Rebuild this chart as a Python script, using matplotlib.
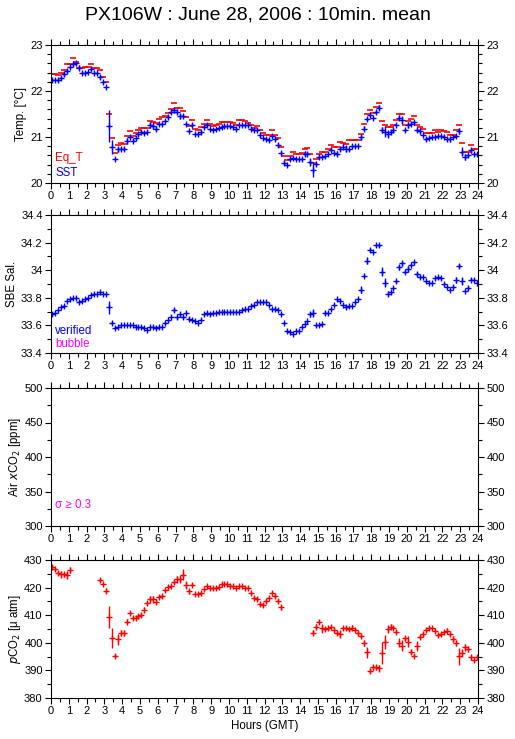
import numpy as np
import matplotlib
matplotlib.use('Agg')
import matplotlib.pyplot as plt
from matplotlib.ticker import MultipleLocator

plt.rcParams['font.family'] = ['Liberation Sans', 'DejaVu Sans']

nan = np.nan

# 10-minute means, one row per hour
sst = [
    22.25, 22.25, 22.24, 22.29, 22.36, 22.43,
    22.53, 22.58, 22.60, 22.51, 22.40, 22.40,
    22.42, 22.47, 22.40, 22.40, 22.31, 22.19,
    22.08, 21.24, 20.79, 20.52, 20.73, 20.75,
    20.75, 20.91, 21.00, 20.92, 20.97, 21.06,
    21.11, 21.09, 21.11, 21.26, 21.24, 21.18,
    21.29, 21.29, 21.35, 21.44, 21.55, 21.58,
    21.55, 21.45, 21.45, 21.28, 21.13, 21.26,
    21.06, 21.06, 21.10, 21.22, 21.26, 21.17,
    21.15, 21.17, 21.20, 21.22, 21.24, 21.24,
    21.24, 21.22, 21.17, 21.26, 21.27, 21.27,
    21.26, 21.18, 21.15, 21.15, 21.04, 20.97,
    20.95, 20.93, 21.02, 20.95, 20.82, 20.65,
    20.44, 20.39, 20.53, 20.55, 20.53, 20.53,
    20.53, 20.64, 20.64, 20.46, 20.29, 20.42,
    20.57, 20.57, 20.58, 20.63, 20.71, 20.65,
    20.64, 20.75, 20.79, 20.75, 20.73, 20.80,
    20.80, 20.81, 20.99, 21.18, 21.40, 21.48,
    21.42, 21.55, 21.64, 21.15, 21.11, 21.06,
    21.11, 21.16, 21.26, 21.42, 21.37, 21.16,
    21.26, 21.29, 21.32, 21.15, 21.13, 21.04,
    20.95, 20.97, 20.99, 21.00, 21.02, 21.02,
    21.00, 20.95, 20.95, 20.99, 21.02, 21.13,
    20.68, 20.57, 20.60, 20.71, 20.64, 20.64,
]
sst_sd = [
    0.03, 0.02, 0.05, 0.03, 0.03, 0.04,
    0.03, 0.03, 0.03, 0.05, 0.04, 0.02,
    0.02, 0.02, 0.02, 0.02, 0.04, 0.02,
    0.02, 0.35, 0.15, 0.02, 0.06, 0.04,
    0.04, 0.06, 0.03, 0.03, 0.04, 0.03,
    0.02, 0.02, 0.03, 0.07, 0.06, 0.06,
    0.02, 0.02, 0.03, 0.04, 0.05, 0.05,
    0.06, 0.05, 0.04, 0.02, 0.02, 0.04,
    0.02, 0.02, 0.03, 0.02, 0.02, 0.02,
    0.02, 0.02, 0.02, 0.02, 0.02, 0.02,
    0.02, 0.02, 0.02, 0.02, 0.02, 0.02,
    0.02, 0.03, 0.02, 0.02, 0.04, 0.02,
    0.02, 0.04, 0.02, 0.02, 0.04, 0.03,
    0.04, 0.03, 0.04, 0.02, 0.02, 0.02,
    0.02, 0.05, 0.04, 0.08, 0.15, 0.04,
    0.05, 0.03, 0.03, 0.03, 0.02, 0.03,
    0.06, 0.03, 0.06, 0.07, 0.03, 0.03,
    0.02, 0.02, 0.06, 0.06, 0.04, 0.02,
    0.02, 0.03, 0.05, 0.06, 0.12, 0.09,
    0.04, 0.03, 0.03, 0.05, 0.08, 0.02,
    0.06, 0.03, 0.03, 0.04, 0.06, 0.02,
    0.04, 0.02, 0.02, 0.03, 0.02, 0.02,
    0.02, 0.04, 0.05, 0.02, 0.03, 0.06,
    0.10, 0.07, 0.03, 0.05, 0.03, 0.02,
]
eq_t = [
    22.38, 22.37, 22.35, 22.40, 22.45, 22.58,
    22.58, 22.72, 22.63, 22.50, 22.51, 22.52,
    22.52, 22.58, 22.49, 22.49, 22.45, 22.30,
    22.19, 21.50, 20.98, 20.65, 20.82, 20.87,
    20.85, 21.03, 21.12, 21.03, 21.08, 21.15,
    21.20, 21.20, 21.20, 21.35, 21.33, 21.30,
    21.40, 21.43, 21.46, 21.52, 21.60, 21.74,
    21.63, 21.62, 21.56, 21.44, 21.25, 21.36,
    21.18, 21.16, 21.22, 21.28, 21.37, 21.28,
    21.25, 21.27, 21.28, 21.33, 21.33, 21.33,
    21.33, 21.30, 21.27, 21.37, 21.37, 21.35,
    21.30, 21.26, 21.20, 21.25, 21.16, 21.08,
    21.04, 21.04, 21.15, 21.04, 20.97, 20.79,
    20.58, 20.50, 20.58, 20.67, 20.62, 20.64,
    20.65, 20.75, 20.77, 20.63, 20.44, 20.53,
    20.63, 20.67, 20.67, 20.73, 20.82, 20.79,
    20.79, 20.89, 20.86, 20.84, 20.93, 20.93,
    20.93, 20.93, 21.06, 21.28, 21.49, 21.58,
    21.53, 21.66, 21.75, 21.34, 21.26, 21.21,
    21.21, 21.27, 21.36, 21.51, 21.51, 21.27,
    21.35, 21.40, 21.45, 21.26, 21.22, 21.18,
    21.08, 21.08, 21.09, 21.15, 21.11, 21.15,
    21.13, 21.10, 21.04, 21.04, 21.15, 21.26,
    20.86, 20.67, 20.67, 20.82, 20.75, 20.75,
]
sal = [
    33.68, 33.69, 33.71, 33.73, 33.74, 33.78,
    33.79, 33.80, 33.80, 33.77, 33.78, 33.79,
    33.80, 33.82, 33.83, 33.83, 33.84, 33.83,
    33.83, 33.73, 33.62, 33.58, 33.59, 33.60,
    33.60, 33.60, 33.60, 33.60, 33.59, 33.59,
    33.59, 33.58, 33.57, 33.59, 33.59, 33.58,
    33.59, 33.59, 33.62, 33.64, 33.66, 33.71,
    33.66, 33.68, 33.66, 33.69, 33.65, 33.64,
    33.63, 33.62, 33.64, 33.68, 33.69, 33.68,
    33.69, 33.69, 33.70, 33.70, 33.70, 33.70,
    33.70, 33.70, 33.70, 33.70, 33.71, 33.72,
    33.72, 33.74, 33.75, 33.77, 33.77, 33.77,
    33.77, 33.75, 33.72, 33.72, 33.71, 33.68,
    33.62, 33.56, 33.55, 33.54, 33.56, 33.56,
    33.59, 33.61, 33.63, 33.68, 33.69, 33.60,
    33.60, 33.61, 33.69, 33.69, 33.72, 33.75,
    33.79, 33.78, 33.75, 33.73, 33.74, 33.74,
    33.77, 33.79, 33.86, 33.96, 34.07, 34.15,
    34.13, 34.18, 34.18, 33.99, 33.91, 33.83,
    33.84, 33.87, 33.92, 34.02, 34.05, 33.99,
    34.01, 34.04, 34.06, 33.97, 33.95, 33.95,
    33.92, 33.91, 33.91, 33.94, 33.95, 33.94,
    33.90, 33.88, 33.86, 33.88, 33.93, 34.03,
    33.92, 33.85, 33.87, 33.93, 33.93, 33.91,
]
sal_sd = [
    0.005, 0.005, 0.005, 0.005, 0.008, 0.005,
    0.008, 0.005, 0.005, 0.005, 0.005, 0.005,
    0.005, 0.005, 0.005, 0.005, 0.005, 0.005,
    0.005, 0.045, 0.012, 0.005, 0.005, 0.005,
    0.005, 0.005, 0.005, 0.005, 0.005, 0.005,
    0.005, 0.005, 0.005, 0.005, 0.005, 0.005,
    0.005, 0.005, 0.005, 0.008, 0.008, 0.015,
    0.010, 0.010, 0.015, 0.010, 0.010, 0.008,
    0.005, 0.005, 0.005, 0.005, 0.005, 0.005,
    0.005, 0.005, 0.005, 0.005, 0.005, 0.005,
    0.005, 0.005, 0.005, 0.005, 0.005, 0.005,
    0.005, 0.005, 0.005, 0.005, 0.005, 0.005,
    0.005, 0.005, 0.005, 0.005, 0.005, 0.008,
    0.008, 0.008, 0.005, 0.005, 0.005, 0.005,
    0.005, 0.005, 0.005, 0.020, 0.030, 0.005,
    0.005, 0.005, 0.012, 0.005, 0.008, 0.005,
    0.010, 0.008, 0.008, 0.008, 0.005, 0.005,
    0.008, 0.005, 0.025, 0.012, 0.025, 0.010,
    0.005, 0.010, 0.010, 0.035, 0.030, 0.020,
    0.010, 0.008, 0.010, 0.015, 0.020, 0.008,
    0.020, 0.008, 0.010, 0.015, 0.005, 0.005,
    0.005, 0.005, 0.005, 0.005, 0.005, 0.005,
    0.008, 0.008, 0.005, 0.012, 0.020, 0.015,
    0.030, 0.010, 0.012, 0.010, 0.005, 0.005,
]
pco2 = [
    427.6, 426.6, 425.2, 424.8, 424.8, 424.6,
    426.4, nan, nan, nan, nan, nan,
    nan, nan, nan, nan, 422.8, 421.3,
    418.9, 409.3, 401.7, 395.3, 401.3, 403.5,
    403.5, 407.7, 410.9, 409.0, 409.0, 409.8,
    410.1, 412.0, 414.3, 415.8, 415.8, 414.9,
    416.7, 417.0, 419.0, 420.1, 420.5, 422.0,
    423.0, 423.2, 424.6, 421.0, 418.6, 421.0,
    417.7, 417.7, 418.0, 419.4, 420.4, 419.8,
    419.8, 420.0, 420.1, 421.2, 421.2, 421.2,
    420.7, 420.4, 420.0, 420.4, 420.6, 420.0,
    420.0, 418.0, 416.4, 415.9, 414.0, 413.6,
    415.2, 416.4, 418.2, 417.0, 415.2, 412.8,
    nan, nan, nan, nan, nan, nan,
    nan, nan, nan, nan, 403.7, 405.9,
    407.6, 405.2, 404.9, 405.2, 405.9, 404.7,
    403.5, 403.1, 405.2, 405.2, 404.9, 405.5,
    404.7, 403.5, 402.5, 399.9, 396.5, 389.9,
    391.1, 391.1, 390.7, 396.3, 400.4, 404.9,
    405.9, 405.5, 404.0, 400.1, 398.9, 401.6,
    400.4, 396.8, 395.3, 398.9, 402.0, 403.2,
    404.8, 405.5, 405.2, 404.4, 402.8, 403.2,
    404.0, 404.4, 403.2, 401.4, 399.9, 395.1,
    396.3, 398.3, 397.7, 394.7, 393.8, 394.7,
]
pco2_sd = [
    0.6, 0.6, 0.8, 1.2, 1.0, 1.5,
    1.2, nan, nan, nan, nan, nan,
    nan, nan, nan, nan, 0.6, 0.5,
    0.8, 4.0, 3.5, 0.8, 2.0, 1.2,
    1.2, 1.0, 0.6, 0.6, 0.6, 0.8,
    0.8, 0.8, 0.6, 1.2, 1.2, 0.8,
    0.6, 0.6, 0.6, 0.8, 0.6, 0.8,
    1.2, 1.5, 2.0, 1.5, 0.8, 0.6,
    0.5, 0.5, 0.5, 0.6, 0.5, 0.5,
    0.5, 0.5, 0.5, 0.5, 0.5, 0.5,
    0.5, 0.5, 0.5, 0.5, 0.5, 0.5,
    0.5, 0.6, 0.6, 0.6, 0.8, 0.8,
    0.6, 0.6, 0.6, 0.6, 0.8, 0.8,
    nan, nan, nan, nan, nan, nan,
    nan, nan, nan, nan, 0.8, 0.8,
    0.8, 1.5, 0.8, 0.6, 0.6, 0.8,
    0.8, 1.5, 0.6, 0.6, 0.6, 0.8,
    0.6, 0.6, 0.8, 1.2, 2.0, 1.0,
    1.0, 1.0, 1.2, 4.0, 2.5, 1.5,
    0.8, 0.6, 0.6, 1.5, 2.0, 1.0,
    2.0, 0.8, 0.6, 1.8, 0.8, 0.8,
    0.6, 0.6, 0.6, 0.6, 0.6, 0.6,
    0.6, 0.8, 0.8, 1.2, 1.0, 3.0,
    1.5, 1.2, 1.2, 1.0, 0.6, 0.6,
]

hours = (np.arange(144) + 0.5) / 6.0

BLUE = '#0000ff'
RED = '#ff0000'
MAG = '#ff00ff'

fig = plt.figure(figsize=(5.15, 7.39), dpi=100)
L, W, H = 51 / 515, 427 / 515, 138 / 739
tops = [45, 215, 388, 560]
axes = [fig.add_axes([L, 1 - (t + 138) / 739, W, H]) for t in tops]

fig.text(0.5, 1 - 15 / 739, 'PX106W : June 28, 2006 : 10min. mean',
         ha='center', va='center', fontsize=14)

fs = 8
lfs = 8.3
for ax in axes:
    ax.set_xlim(0, 24)
    ax.xaxis.set_major_locator(MultipleLocator(1))
    ax.xaxis.set_minor_locator(MultipleLocator(0.5))
    ax.tick_params(which='both', direction='out', top=True, right=True,
                   labelright=True, labelsize=fs, width=0.8, pad=1.5)
    ax.tick_params(which='major', length=4.5)
    ax.tick_params(which='minor', length=3)
    for s in ax.spines.values():
        s.set_linewidth(0.8)

ekw = dict(fmt='+', ms=3.8, mew=1.0, elinewidth=1.0, capsize=0, ls='none')

# temperature
ax = axes[0]
ax.plot(hours, eq_t, '_', color=RED, ms=4, mew=1.2)
ax.errorbar(hours, sst, yerr=sst_sd, color=BLUE, **ekw)
ax.set_ylim(20, 23)
ax.yaxis.set_major_locator(MultipleLocator(1))
ax.yaxis.set_minor_locator(MultipleLocator(0.2))
ax.set_ylabel('Temp. [°C]', fontsize=lfs, labelpad=2)
ax.text(0.01, 0.18, 'Eq_T', color=RED, transform=ax.transAxes, fontsize=lfs, va='center')
ax.text(0.01, 0.072, 'SST', color=BLUE, transform=ax.transAxes, fontsize=lfs, va='center')

# salinity
ax = axes[1]
ax.errorbar(hours, sal, yerr=sal_sd, color=BLUE, **ekw)
ax.set_ylim(33.4, 34.4)
ax.yaxis.set_minor_locator(MultipleLocator(0.1))
ax.set_yticks([33.4, 33.6, 33.8, 34.0, 34.2, 34.4])
ax.set_yticklabels(['33.4', '33.6', '33.8', '34', '34.2', '34.4'])
ax.set_ylabel('SBE Sal.', fontsize=lfs, labelpad=2)
ax.text(0.01, 0.158, 'verified', color=BLUE, transform=ax.transAxes, fontsize=lfs, va='center')
ax.text(0.01, 0.065, 'bubble', color=MAG, transform=ax.transAxes, fontsize=lfs, va='center')

# air xCO2 (no data)
ax = axes[2]
ax.set_ylim(300, 500)
ax.yaxis.set_major_locator(MultipleLocator(50))
ax.yaxis.set_minor_locator(MultipleLocator(25))
ax.set_ylabel('Air $x$CO$_2$ [ppm]', fontsize=lfs, labelpad=1)
ax.text(0.01, 0.152, 'σ ≥ 0.3', color=MAG, transform=ax.transAxes, fontsize=lfs, va='center')

# pCO2
ax = axes[3]
ax.errorbar(hours, pco2, yerr=pco2_sd, color=RED, **ekw)
ax.set_ylim(380, 430)
ax.yaxis.set_major_locator(MultipleLocator(10))
ax.yaxis.set_minor_locator(MultipleLocator(5))
ax.set_ylabel('$p$CO$_2$ [μ atm]', fontsize=lfs, labelpad=1)
ax.set_xlabel('Hours (GMT)', fontsize=lfs, labelpad=3)

fig.savefig('out.png', dpi=100)
